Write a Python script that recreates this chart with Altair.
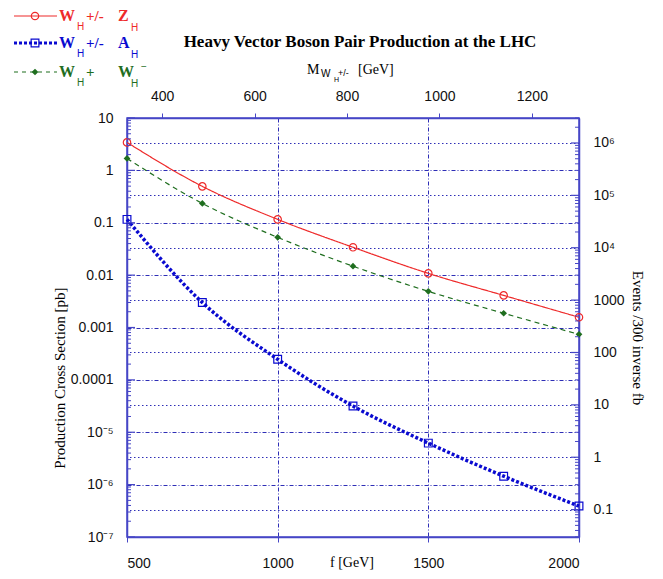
import json
import altair as alt
import pandas as pd

# ---------------- data ----------------
f_gev = [500, 750, 1000, 1250, 1500, 1750, 2000]
sigma_wz = [3.42, 0.495, 0.116, 0.034, 0.0108, 0.0041, 0.00157]
sigma_ww = [1.69, 0.234, 0.0526, 0.0148, 0.0049, 0.00187, 0.00074]
sigma_wa = [0.116, 0.003, 2.47e-4, 3.16e-5, 6.2e-6, 1.45e-6, 3.9e-7]

x_ticks = [500, 1000, 1500, 2000]
m_ticks = [400, 600, 800, 1000, 1200]
m_domain = [324, 1302]
y_domain = [1e-7, 10]
y_decades = [1e-7, 1e-6, 1e-5, 1e-4, 1e-3, 1e-2, 1e-1, 1, 10]
y_labels = ["10⁻⁷", "10⁻⁶", "10⁻⁵", "0.0001", "0.001", "0.01", "0.1", "1", "10"]
ev_decades = [0.1, 1, 10, 100, 1000, 1e4, 1e5, 1e6]
ev_labels = ["0.1", "1", "10", "100", "1000", "10⁴", "10⁵", "10⁶"]
events_per_pb = 3e5  # 300 fb^-1
ev_domain = [y_domain[0] * events_per_pb, y_domain[1] * events_per_pb]

y_minor = [k * 10.0 ** d for d in range(-7, 1) for k in range(2, 10)]
ev_minor = [v for v in (k * 10.0 ** d for d in range(-2, 7) for k in range(2, 10))
            if ev_domain[0] <= v <= ev_domain[1]]

# ---------------- styling ----------------
SANS = "Liberation Sans"
SERIF = "Liberation Serif"
AX = "#4646c6"
GRID = "#2e2eb6"
RED = "#ee2a2a"
BLUE = "#0a0ad0"
GREEN = "#1f6e1f"
W, H = 452, 419

one = pd.DataFrame({"a": [0]})

X = lambda field: alt.X(field, type="quantitative",
    scale=alt.Scale(domain=[500, 2000], nice=False, zero=False),
    axis=alt.Axis(values=x_ticks, format="d", title="", orient="bottom", grid=True,
                  gridColor=GRID, gridDash=[4, 2, 1, 2], gridWidth=1,
                  tickSize=5, tickColor=AX, domainColor=AX, domainWidth=1.5,
                  labelPadding=14, labelFont=SANS, labelFontSize=14, labelColor="#111"))

Y = lambda field: alt.Y(field, type="quantitative",
    scale=alt.Scale(type="log", domain=y_domain, nice=False),
    axis=alt.Axis(values=y_decades, title="", orient="left", grid=True,
                  gridColor=GRID, gridDash=[4, 2, 1, 2], gridWidth=1,
                  ticks=False, domainColor=AX, domainWidth=1.5,
                  labelExpr=json.dumps(y_labels, ensure_ascii=False) + "[round(log(datum.value)/LN10)+7]",
                  labelPadding=14, labelFont=SANS, labelFontSize=14, labelColor="#111"))

Y2 = lambda field: alt.Y(field, type="quantitative",
    scale=alt.Scale(type="log", domain=ev_domain, nice=False),
    axis=alt.Axis(values=ev_decades, title="", orient="right", grid=True,
                  gridColor=GRID, gridDash=[1.5, 2.5], gridWidth=1,
                  ticks=False, domainColor=AX, domainWidth=1.5,
                  labelExpr=json.dumps(ev_labels, ensure_ascii=False) + "[round(log(datum.value)/LN10)+1]",
                  labelPadding=14, labelFont=SANS, labelFontSize=14, labelColor="#111"))

X2 = lambda field: alt.X(field, type="quantitative",
    scale=alt.Scale(domain=m_domain, nice=False, zero=False),
    axis=alt.Axis(values=m_ticks, format="d", title="", orient="top", grid=False,
                  tickSize=5, tickColor=AX, domainColor=AX, domainWidth=1.5,
                  labelPadding=10, labelFont=SANS, labelFontSize=14, labelColor="#111"))

df = pd.DataFrame({"f": f_gev, "wz": sigma_wz, "ww": sigma_ww, "wa": sigma_wa})


def series(col, color, dash, width, shape, filled, size):
    base = alt.Chart(df)
    ln = base.mark_line(color=color, strokeWidth=width, strokeDash=dash,
                        interpolate="monotone").encode(x=X("f"), y=Y(col))
    pt = base.mark_point(shape=shape, filled=filled, color=color, size=size,
                         strokeWidth=1.2, opacity=1).encode(x=X("f"), y=Y(col))
    return [ln, pt]


layers = []
layers += series("wz", RED, [1, 0], 1.2, "circle", False, 55)
layers += series("ww", GREEN, [5, 4], 1.2, "diamond", True, 45)
layers += series("wa", BLUE, [3, 2], 3.5, "square", False, 60)

# inward ticks on the left axis
left_major = alt.Chart(pd.DataFrame({"v": y_decades})).mark_rule(color=AX, strokeWidth=1.2).encode(
    y=Y("v"), x=alt.value(0), x2=alt.value(8))
left_minor = alt.Chart(pd.DataFrame({"v": y_minor})).mark_rule(color=AX, strokeWidth=1).encode(
    y=Y("v"), x=alt.value(0), x2=alt.value(4))
layers += [left_major, left_minor]


def txt(text, x, y, size=14, font=SERIF, color="black", weight="normal", angle=0,
        align="left", baseline="middle"):
    return alt.Chart(one).mark_text(text=text, fontSize=size, font=font, color=color,
                                    fontWeight=weight, angle=angle, align=align,
                                    baseline=baseline).encode(x=alt.value(x), y=alt.value(y))


def sample(y, color, dash, width, shape, filled, size):
    r = alt.Chart(one).mark_rule(color=color, strokeWidth=width, strokeDash=dash).encode(
        x=alt.value(-113), x2=alt.value(-70), y=alt.value(y))
    p = alt.Chart(one).mark_point(shape=shape, filled=filled, color=color, size=size,
                                  strokeWidth=1.2, opacity=1).encode(
        x=alt.value(-92), y=alt.value(y))
    return [r, p]


# titles
layers.append(txt("Heavy Vector Boson Pair Production at the LHC", 233, -76, size=17, weight="bold",
                  align="center"))
layers.append(txt("M", 180, -48, size=14))
layers.append(txt("W", 194, -44, size=10, font=SANS))
layers.append(txt("H", 207, -38, size=7, font=SANS))
layers.append(txt("+/-", 211, -45, size=9, font=SANS))
layers.append(txt("[GeV]", 231, -48, size=14))
layers.append(txt("f [GeV]", 225, 445, size=14, align="center"))
layers.append(txt("Production Cross Section [pb]", -67, 260, size=15, angle=270, align="center"))
layers.append(txt("Events /300 inverse fb", 511, 220, size=15, angle=90, align="center"))

# legend
layers += sample(-102, RED, [1, 0], 1.2, "circle", False, 55)
layers += sample(-75, BLUE, [3, 2], 3, "square", False, 60)
layers += sample(-46, GREEN, [4, 4], 1.2, "diamond", True, 45)

for (yy, color, parts) in [
    (-102, RED, [("W", "H", "+/-"), ("Z", "H", "")]),
    (-75, BLUE, [("W", "H", "+/-"), ("A", "H", "")]),
    (-46, GREEN, [("W", "H", "+"), ("W", "H", "−")]),
]:
    (a1, s1, t1), (a2, s2, t2) = parts
    layers.append(txt(a1, -68, yy, size=16, color=color, weight="bold"))
    layers.append(txt(s1, -50, yy + 11, size=10, font=SANS, color=color))
    layers.append(txt(t1, -41, yy, size=15, color=color, weight="bold"))
    layers.append(txt(a2, -9, yy, size=16, color=color, weight="bold"))
    layers.append(txt(s2, 4, yy + 12, size=10, font=SANS, color=color))
    if t2:
        layers.append(txt(t2, 14, yy - 5, size=10, font=SANS, color=color))

main = alt.layer(*layers)

# top (mass) axis
top = alt.Chart(pd.DataFrame({"m": m_ticks})).mark_point(opacity=0).encode(x=X2("m"))

# right (events) axis with inward ticks
right_major = alt.Chart(pd.DataFrame({"e": ev_decades})).mark_rule(color=AX, strokeWidth=1.2).encode(
    y=Y2("e"), x=alt.value(W), x2=alt.value(W - 8))
right_minor = alt.Chart(pd.DataFrame({"e": ev_minor})).mark_rule(color=AX, strokeWidth=1).encode(
    y=Y2("e"), x=alt.value(W), x2=alt.value(W - 4))
right = alt.layer(right_major, right_minor)

chart = alt.layer(main, top, right).resolve_scale(x="independent", y="independent").properties(
    width=W, height=H,
    autosize=alt.AutoSizeParams(type="none"),
    padding={"left": 119, "top": 110, "right": 663 - 16 - 119 - W, "bottom": 579 - 16 - 110 - H},
    background="white",
).configure_view(stroke=AX, strokeWidth=1.5)

chart.save("out.html", embed_options={"renderer": "svg", "actions": False})
